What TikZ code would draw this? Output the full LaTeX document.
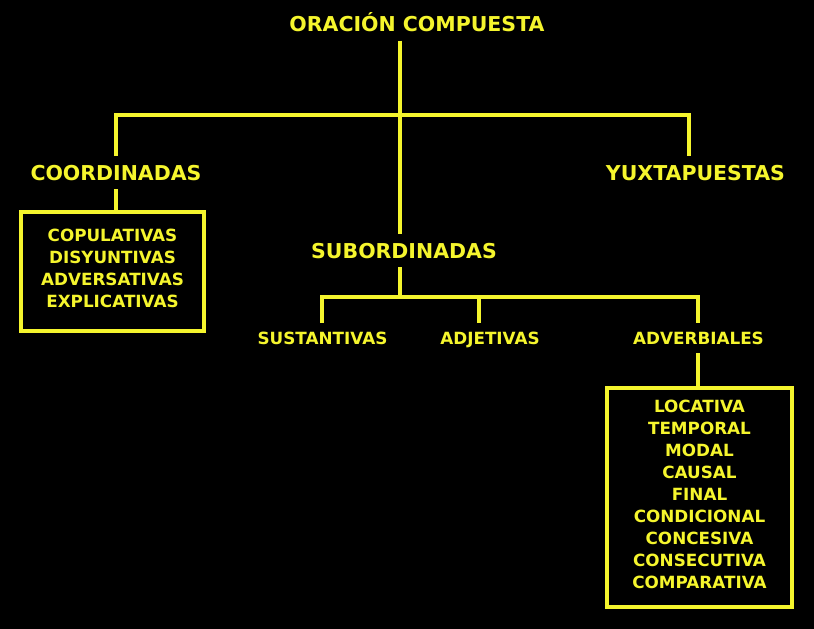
\documentclass[tikz,border=0pt]{standalone}
\usepackage{fontspec}
\setmainfont{DejaVu Sans}
\definecolor{amarillo}{RGB}{245,245,45}
\tikzset{
    rama/.style={draw=amarillo, line width=4pt},
    grupo/.style={text=amarillo, font=\fontsize{20.5}{24}\selectfont\bfseries, inner sep=0pt, outer xsep=0pt, outer ysep=9pt, text height=15pt, text depth=0pt},
    clase/.style={text=amarillo, font=\fontsize{16.8}{22}\selectfont\bfseries, inner sep=0pt, outer xsep=0pt, outer ysep=9pt, text height=12.2pt, text depth=0pt},
    caja/.style={draw=amarillo, line width=4pt, outer sep=0pt, inner sep=0pt, align=center, text=amarillo, font=\fontsize{16.8}{22}\selectfont\bfseries, text depth=7pt}
}
\begin{document}
\begin{tikzpicture}[x=1pt, y=-1pt]
            \fill[black] (0,0) rectangle (814,629);
            \useasboundingbox (0,0) rectangle (814,629);

            \node[grupo] (root) at (417,24) {ORACIÓN COMPUESTA};
            \node[grupo] (coord) at (116,172.5) {COORDINADAS};
            \node[grupo] (yux) at (695.5,172.5) {YUXTAPUESTAS};
            \node[grupo] (sub) at (404,250.5) {SUBORDINADAS};
            \node[clase] (sust) at (322.5,338) {SUSTANTIVAS};
            \node[clase] (adj) at (490,338) {ADJETIVAS};
            \node[clase] (adv) at (698.5,338) {ADVERBIALES};

            \node[caja, minimum width=183pt, minimum height=119pt] (cajacoord) at (112.5,271.5)
                {COPULATIVAS\\DISYUNTIVAS\\ADVERSATIVAS\\EXPLICATIVAS};
            \node[caja, minimum width=185pt, minimum height=219pt] (cajaadv) at (699.5,497.5)
                {LOCATIVA\\TEMPORAL\\MODAL\\CAUSAL\\FINAL\\CONDICIONAL\\CONCESIVA\\CONSECUTIVA\\COMPARATIVA};

            \coordinate (nudo1) at (400,115);
            \coordinate (nudo2) at (400,297);

            \draw[rama] ([xshift=-17pt]root.south) -- ([xshift=-4pt]sub.north);
            \draw[rama] (coord.north) |- (nudo1) -| ([xshift=-7pt]yux.north);
            \draw[rama] (coord.south) -- (coord.south |- cajacoord.north);
            \draw[rama] ([xshift=-4pt]sub.south) -- (nudo2);
            \draw[rama] ([xshift=-1pt]sust.north) |- (nudo2) -| ([xshift=-1pt]adv.north);
            \draw[rama] ([xshift=-11pt]adj.north) -- ([xshift=-11pt]adj.north |- nudo2);
            \draw[rama] ([xshift=-1pt]adv.south) -- ([xshift=-1pt]adv.south |- cajaadv.north);
        \end{tikzpicture}
\end{document}
